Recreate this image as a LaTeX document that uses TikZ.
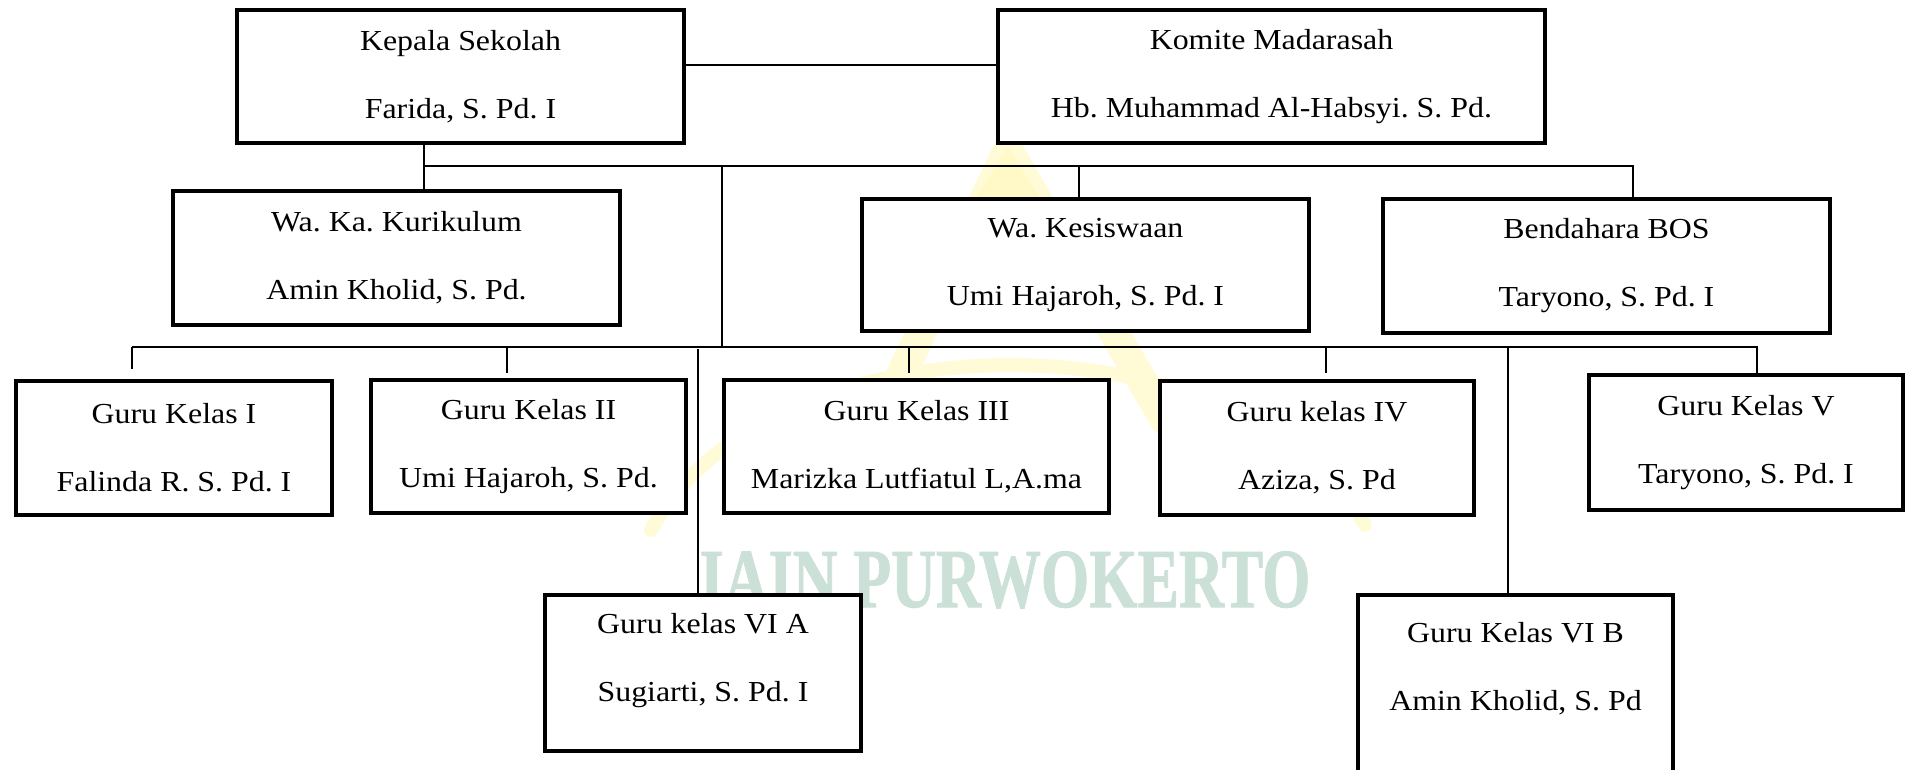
\documentclass[tikz,border=0pt]{standalone}
\usepackage{fontspec}
\setmainfont{Liberation Serif}[FakeStretch=1.1]
\newfontfamily\wmfont{Liberation Serif Bold}[FakeBold=1.2]
\definecolor{logoY}{RGB}{255,249,200}
\definecolor{logoYl}{RGB}{255,251,214}
\definecolor{wmC}{RGB}{203,225,215}
\frenchspacing
\begin{document}
\begin{tikzpicture}[x=0.02cm,y=-0.02cm,
  box/.style={draw=black, fill=white, line width=0.08cm, inner sep=0pt, outer sep=0pt,
    align=center, font=\frenchspacing\fontsize{16.5}{38.7}\selectfont},
  txt/.style={inner sep=0pt, align=center, font=\frenchspacing\fontsize{16.5}{38.7}\selectfont},
  conn/.style={draw=black, line width=1pt},
  logo/.style={draw=logoYl, line width=0.6cm, line cap=round},
  wm/.style={text=wmC, inner sep=0pt, font=\wmfont\fontsize{47.8}{50}\selectfont}]
\useasboundingbox (0,0) rectangle (1905,770);
\clip (0,0) rectangle (1905,770);
\fill[white] (0,0) rectangle (1905,770);

% faint logo watermark
\draw[logo] (1008,150) -- (870,440);
\draw[logo] (1008,150) -- (1165,420);
\fill[logoY] (1008,147) -- (1060,230) -- (956,230) -- cycle;
\draw[logo, line width=0.28cm] (651,530) .. controls (770,311) and (1246,311) .. (1365,525);
\node[wm, anchor=base, xscale=0.74] (wmtext) at (1005,607) {IAIN PURWOKERTO};

% boxes
\node[box, minimum width=447*0.02cm, minimum height=133*0.02cm] (kepala) at (460.5,76.5)
  {Kepala Sekolah\\Farida, S. Pd. I};
\node[box, minimum width=547*0.02cm, minimum height=133*0.02cm] (komite) at (1271.5,76.5)
  {Komite Madarasah\\Hb. Muhammad Al-Habsyi. S. Pd.};
\node[box, minimum width=447*0.02cm, minimum height=134*0.02cm] (waka) at (396.5,258)
  {Wa. Ka. Kurikulum\\Amin Kholid, S. Pd.};
\node[box, minimum width=447*0.02cm, minimum height=132*0.02cm] (wakes) at (1085.5,265)
  {Wa. Kesiswaan\\Umi Hajaroh, S. Pd. I};
\node[box, minimum width=447*0.02cm, minimum height=134*0.02cm] (bend) at (1606.5,266)
  {Bendahara BOS\\Taryono, S. Pd. I};
\node[box, minimum width=316*0.02cm, minimum height=134*0.02cm] (g1) at (174,448)
  {Guru Kelas I\\Falinda R. S. Pd. I};
\node[box, minimum width=315*0.02cm, minimum height=133*0.02cm] (g2) at (528.5,446.5)
  {Guru Kelas II\\Umi Hajaroh, S. Pd.};
\node[box, minimum width=385*0.02cm, minimum height=133*0.02cm] (g3) at (916.5,446.5)
  {Guru Kelas III\\Marizka Lutfiatul L,A.ma};
\node[box, minimum width=314*0.02cm, minimum height=134*0.02cm] (g4) at (1317,448)
  {Guru kelas IV\\Aziza, S. Pd};
\node[box, minimum width=314*0.02cm, minimum height=135*0.02cm] (g5) at (1746,442.5)
  {Guru Kelas V\\Taryono, S. Pd. I};
\node[box, minimum width=316*0.02cm, minimum height=156*0.02cm] (g6a) at (703,673) {};
\node[txt] (g6aT) at (703,661) {Guru kelas VI A\\Sugiarti, S. Pd. I};
\node[box, minimum width=315*0.02cm, minimum height=203*0.02cm] (g6b) at (1515.5,696.5) {};
\node[txt] (g6bT) at (1515.5,669) {Guru Kelas VI B\\Amin Kholid, S. Pd};

% bus coordinates
\coordinate (busA) at (424,166);
\coordinate (busAend) at (1633,166);
\coordinate (tWakes) at (1079,166);
\coordinate (tMid) at (722,166);
\coordinate (busB) at (132,347);
\coordinate (busBend) at (1757,347);
\coordinate (s2) at (507,347);
\coordinate (s3) at (909,347);
\coordinate (s4) at (1326,347);
\coordinate (s6a) at (698,349);
\coordinate (s6b) at (1508,347);

% connectors
\draw[conn] ([yshift=0.23cm]kepala.east) -- ([yshift=0.23cm]komite.west);
\draw[conn] (kepala.south -| busA) -- (waka.north -| busA);
\draw[conn] (busA) -- (busAend) -- (bend.north -| busAend);
\draw[conn] (tWakes) -- (wakes.north -| tWakes);
\draw[conn] (tMid) -- (tMid |- busB);
\draw[conn] (busB) -- (busBend) -- (g5.north -| busBend);
\draw[conn] (busB) -- ([yshift=0.24cm]g1.north -| busB);
\draw[conn] (s2) -- ([yshift=0.14cm]g2.north -| s2);
\draw[conn] (s3) -- ([yshift=0.14cm]g3.north -| s3);
\draw[conn] (s4) -- ([yshift=0.16cm]g4.north -| s4);
\draw[conn] (s6a) -- (g6a.north -| s6a);
\draw[conn] (s6b) -- (g6b.north -| s6b);
\end{tikzpicture}
\end{document}
